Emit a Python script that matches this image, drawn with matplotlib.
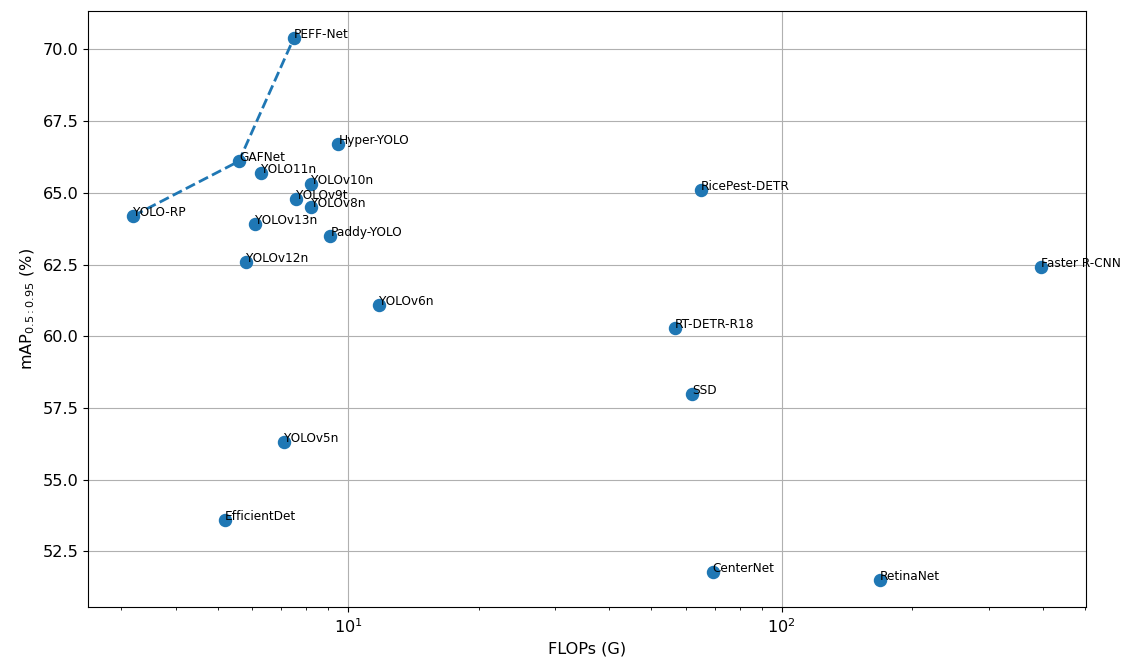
import matplotlib
matplotlib.use('Agg')
import matplotlib.pyplot as plt

# model names, FLOPs (G) and mAP0.5:0.95 (%)
models = ['YOLO-RP', 'GAFNet', 'PEFF-Net', 'Hyper-YOLO', 'YOLO11n', 'YOLOv10n',
          'YOLOv9t', 'YOLOv8n', 'YOLOv13n', 'Paddy-YOLO', 'YOLOv12n', 'YOLOv6n',
          'YOLOv5n', 'EfficientDet', 'RicePest-DETR', 'Faster R-CNN',
          'RT-DETR-R18', 'SSD', 'CenterNet', 'RetinaNet']
flops = [3.2, 5.6, 7.5, 9.5, 6.3, 8.2, 7.6, 8.2, 6.1, 9.1, 5.8, 11.8,
         7.1, 5.2, 65.0, 395.0, 56.7, 62.0, 69.3, 168.0]
mAP = [64.2, 66.1, 70.4, 66.7, 65.7, 65.3, 64.8, 64.5, 63.9, 63.5, 62.6, 61.1,
       56.3, 53.6, 65.1, 62.4, 60.3, 58.0, 51.8, 51.5]

# pareto front drawn as dashed line
front = ['YOLO-RP', 'GAFNet', 'PEFF-Net']

fig = plt.figure(figsize=(11.3, 6.71), dpi=100)
ax = fig.add_axes([0.078, 0.095, 0.883, 0.889])

ax.scatter(flops, mAP, s=75, color='#1f77b4', zorder=3)
front_x = [flops[models.index(m)] for m in front]
front_y = [mAP[models.index(m)] for m in front]
ax.plot(front_x, front_y, linestyle='--', color='#1f77b4', linewidth=2.0, zorder=2)

for name, fx, fy in zip(models, flops, mAP):
    ax.text(fx, fy, name, fontsize=8.7, zorder=4)

ax.set_xscale('log')
ax.set_xlabel('FLOPs (G)', fontsize=11.6)
ax.set_ylabel('mAP$_{0.5:0.95}$ (%)', fontsize=11.6)
ax.tick_params(axis='both', which='major', labelsize=11.6)
ax.grid(True, which='major')
ax.set_axisbelow(True)

plt.savefig('out.png', dpi=100)
